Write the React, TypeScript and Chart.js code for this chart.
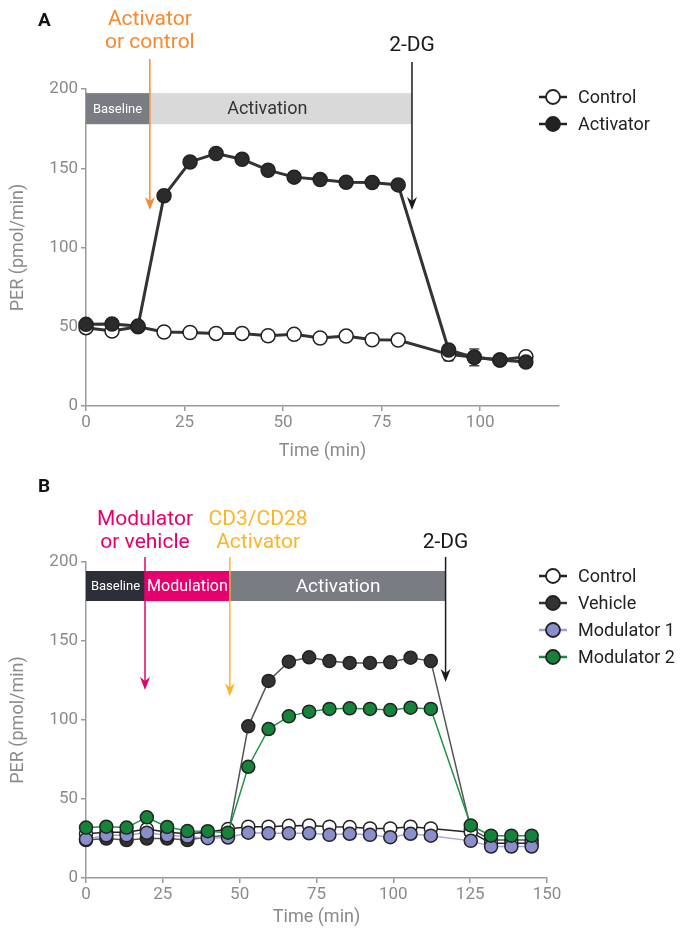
import React, { useEffect, useRef } from 'react';
import { Chart, registerables } from 'chart.js';
Chart.register(...registerables);

// ---------- Panel A data ----------
const timeA = [0, 6.6, 13.2, 19.8, 26.4, 33, 39.6, 46.2, 52.8, 59.4, 66, 72.6, 79.2, 92, 98.5, 105, 111.6];
const controlA = [49.4, 47.3, 50, 46.7, 46.4, 45.8, 45.8, 44.3, 45.2, 42.9, 44.1, 41.8, 41.6, 32.6, 30.7, 29, 31.1];
const activatorA = [51.5, 51.7, 50.4, 132.6, 154, 159.3, 155.7, 148.8, 144.4, 142.9, 141.2, 141, 139.5, 35.3, 30.7, 29, 27.7];
const controlErrA = [0, 0, 0, 0, 0, 0, 0, 0, 0, 0, 0, 0, 0, 4, 0, 0, 0];
const activatorErrA = [0, 0, 0, 0, 0, 0, 0, 0, 0, 0, 0, 0, 0, 3, 5.3, 1, 0];

// ---------- Panel B data ----------
const timeB = [0, 6.6, 13.2, 19.8, 26.4, 33, 39.6, 46.2, 52.8, 59.4, 66, 72.6, 79.2, 85.8, 92.4, 99, 105.6, 112.2, 125.2, 131.8, 138.4, 145];
const controlB = [28, 29, 29, 31, 29, 28, 29, 31, 32.5, 32.5, 33, 33.3, 32.5, 32.2, 31.4, 31.4, 32.5, 31.4, 29, 22, 22, 22];
const vehicleB = [24, 25, 24, 25, 25, 24, 26, 27, 96, 124.7, 136.9, 139.7, 137.3, 136.1, 136.1, 136.5, 139.4, 137.3, 31, 24, 24, 24];
const mod1B = [24.5, 27, 27, 28.7, 27, 26.2, 25.2, 25.6, 28.7, 28.3, 28.3, 28.3, 27.3, 28, 27.3, 25.8, 28, 26.8, 23.5, 19.9, 19.9, 19.9];
const mod2B = [31.9, 32.5, 31.9, 38.4, 32.3, 29.7, 29.6, 28.7, 70.4, 94.3, 102.3, 105.3, 107, 107.4, 107, 106.3, 107.8, 107, 33.3, 26.8, 26.8, 26.8];

const yTicks = [0, 50, 100, 150, 200];
const xTicksA = [0, 25, 50, 75, 100];
const xTicksB = [0, 25, 50, 75, 100, 125, 150];

const FONT = 'Roboto';
const TICK_COLOR = '#8a8a8a';
const AXIS_COLOR = '#9a9a9a';

// ---------- Annotations (data coordinates) ----------
const bandYA = [177.8, 197.4];
const bandsA = [
  { from: 0, to: 16, color: '#797c82', label: 'Baseline', labelX: 8, textColor: '#ffffff', size: 13 },
  { from: 16, to: 82.7, color: '#d9d9d9', label: 'Activation', labelX: 46, textColor: '#333333', size: 18 },
];
const arrowsA = [
  { x: 16.2, top: 219, tip: 123.6, color: '#f7892f', lines: ['Activator', 'or control'], linesY: [243.4, 228.9] },
  { x: 82.7, top: 217, tip: 123.6, color: '#1a1a1a', lines: ['2-DG'], linesY: [227.6] },
];
const bandYB = [175.3, 194.3];
const bandsB = [
  { from: 0, to: 19.2, color: '#2c2f37', label: 'Baseline', labelX: 9.6, textColor: '#ffffff', size: 13 },
  { from: 19.2, to: 46.8, color: '#e5006d', label: 'Modulation', labelX: 33, textColor: '#ffffff', size: 16 },
  { from: 46.8, to: 117, color: '#797c83', label: 'Activation', labelX: 82, textColor: '#ffffff', size: 19 },
];
const arrowsB = [
  { x: 19.2, top: 203.2, tip: 119, color: '#e5006d', lines: ['Modulator', 'or vehicle'], linesY: [226.6, 212] },
  { x: 46.8, top: 203.2, tip: 115, color: '#f9b62b', lines: ['CD3/CD28', 'Activator'], linesY: [226.6, 212], textX: 56 },
  { x: 117, top: 203.2, tip: 124, color: '#1a1a1a', lines: ['2-DG'], linesY: [212] },
];

type LegendItem = { label: string; line: string; fill: string };
const legendA: LegendItem[] = [
  { label: 'Control', line: '#222222', fill: '#ffffff' },
  { label: 'Activator', line: '#222222', fill: '#222222' },
];
const legendB: LegendItem[] = [
  { label: 'Control', line: '#222222', fill: '#ffffff' },
  { label: 'Vehicle', line: '#333333', fill: '#333333' },
  { label: 'Modulator 1', line: '#9a9edb', fill: '#8a8fcc' },
  { label: 'Modulator 2', line: '#17883d', fill: '#15843a' },
];

function drawArrow(ctx: CanvasRenderingContext2D, x: number, yTop: number, yTip: number, color: string) {
  ctx.save();
  ctx.strokeStyle = color;
  ctx.fillStyle = color;
  ctx.lineWidth = 1.5;
  ctx.beginPath();
  ctx.moveTo(x, yTop);
  ctx.lineTo(x, yTip - 6);
  ctx.stroke();
  ctx.beginPath();
  ctx.moveTo(x, yTip);
  ctx.lineTo(x - 5, yTip - 13);
  ctx.lineTo(x, yTip - 9);
  ctx.lineTo(x + 5, yTip - 13);
  ctx.closePath();
  ctx.fill();
  ctx.restore();
}

function makeAnnotPlugin(opts: {
  letter: string;
  bandY: number[];
  bands: any[];
  arrows: any[];
  legend: LegendItem[];
  legendTop: number;
  legendStep: number;
  errors?: { data: number[]; err: number[] }[];
  times: number[];
}) {
  return {
    id: 'annot' + opts.letter,
    beforeDatasetsDraw(chart: any) {
      const ctx = chart.ctx as CanvasRenderingContext2D;
      const xs = chart.scales.x;
      const ys = chart.scales.y;
      if (opts.errors) {
        ctx.save();
        ctx.strokeStyle = '#444';
        ctx.lineWidth = 1.5;
        opts.errors.forEach((e) => {
          e.err.forEach((v, i) => {
            if (!v) return;
            const px = xs.getPixelForValue(opts.times[i]);
            const y1 = ys.getPixelForValue(e.data[i] + v);
            const y2 = ys.getPixelForValue(e.data[i] - v);
            ctx.beginPath();
            ctx.moveTo(px, y1);
            ctx.lineTo(px, y2);
            ctx.moveTo(px - 5, y1);
            ctx.lineTo(px + 5, y1);
            ctx.moveTo(px - 5, y2);
            ctx.lineTo(px + 5, y2);
            ctx.stroke();
          });
        });
        ctx.restore();
      }
    },
    afterDraw(chart: any) {
      const ctx = chart.ctx as CanvasRenderingContext2D;
      const xs = chart.scales.x;
      const ys = chart.scales.y;
      ctx.save();
      // panel letter
      ctx.fillStyle = '#111';
      ctx.font = `bold 19px ${FONT}`;
      ctx.textAlign = 'left';
      ctx.textBaseline = 'middle';
      ctx.fillText(opts.letter, 38, 21);
      // bands
      const yb1 = ys.getPixelForValue(opts.bandY[1]);
      const yb0 = ys.getPixelForValue(opts.bandY[0]);
      opts.bands.forEach((b) => {
        const x0 = xs.getPixelForValue(b.from);
        const x1 = xs.getPixelForValue(b.to);
        ctx.fillStyle = b.color;
        ctx.fillRect(x0, yb1, x1 - x0, yb0 - yb1);
      });
      opts.bands.forEach((b) => {
        ctx.fillStyle = b.textColor;
        ctx.font = `${b.size}px ${FONT}`;
        ctx.textAlign = 'center';
        ctx.fillText(b.label, xs.getPixelForValue(b.labelX), (yb0 + yb1) / 2 + 1);
      });
      // arrows + labels
      opts.arrows.forEach((a) => {
        const px = xs.getPixelForValue(a.x);
        drawArrow(ctx, px, ys.getPixelForValue(a.top), ys.getPixelForValue(a.tip), a.color);
        ctx.fillStyle = a.color;
        ctx.font = `21px ${FONT}`;
        ctx.textAlign = 'center';
        const tx = xs.getPixelForValue(a.textX ?? a.x);
        a.lines.forEach((t: string, i: number) => {
          ctx.fillText(t, tx, ys.getPixelForValue(a.linesY[i]));
        });
      });
      // legend
      opts.legend.forEach((l, i) => {
        const y = opts.legendTop + i * opts.legendStep;
        ctx.strokeStyle = l.line;
        ctx.lineWidth = 2.5;
        ctx.beginPath();
        ctx.moveTo(539, y);
        ctx.lineTo(567, y);
        ctx.stroke();
        ctx.beginPath();
        ctx.arc(553, y, 7, 0, Math.PI * 2);
        ctx.fillStyle = l.fill;
        ctx.fill();
        ctx.lineWidth = 1.8;
        ctx.strokeStyle = '#222';
        ctx.stroke();
        ctx.fillStyle = '#222';
        ctx.font = `18px ${FONT}`;
        ctx.textAlign = 'left';
        ctx.fillText(l.label, 578, y + 1);
      });
      ctx.restore();
    },
  };
}

function scales(xMax: number, xTicks: number[], xHeight: number) {
  const common = {
    grid: { display: true, drawOnChartArea: false, drawTicks: true, tickLength: 5, color: AXIS_COLOR, lineWidth: 1.5 },
    border: { display: true, color: AXIS_COLOR, width: 1.5 },
  };
  return {
    x: {
      type: 'linear',
      min: 0,
      max: xMax,
      afterBuildTicks: (s: any) => {
        s.ticks = xTicks.map((v) => ({ value: v }));
      },
      afterFit: (s: any) => {
        s.height = xHeight;
      },
      ticks: { color: TICK_COLOR, font: { size: 17, family: FONT }, padding: 2, maxRotation: 0 },
      title: { display: true, text: 'Time (min)', color: TICK_COLOR, font: { size: 18, family: FONT }, padding: { top: 0, bottom: 4 } },
      ...common,
    },
    y: {
      type: 'linear',
      min: 0,
      max: 200,
      afterBuildTicks: (s: any) => {
        s.ticks = yTicks.map((v) => ({ value: v }));
      },
      afterFit: (s: any) => {
        s.width = 86;
      },
      ticks: { color: TICK_COLOR, font: { size: 17, family: FONT }, padding: 3 },
      title: { display: true, text: 'PER (pmol/min)', color: TICK_COLOR, font: { size: 18, family: FONT }, padding: { top: 8, bottom: 0 } },
      ...common,
    },
  };
}

function ds(label: string, xs: number[], ys: number[], line: string, fill: string, lw: number, r: number, order: number) {
  return {
    label,
    data: xs.map((x, i) => ({ x, y: ys[i] })),
    borderColor: line,
    borderWidth: lw,
    pointBackgroundColor: fill,
    pointBorderColor: '#222',
    pointBorderWidth: 1.5,
    pointRadius: r,
    pointHoverRadius: r,
    tension: 0,
    clip: false,
    order,
  };
}

function useChart(ref: React.RefObject<HTMLCanvasElement>, make: () => any) {
  useEffect(() => {
    if (!ref.current) return;
    const chart = new Chart(ref.current, make());
    return () => chart.destroy();
  }, []);
}

function PanelA() {
  const ref = useRef<HTMLCanvasElement>(null);
  useChart(ref, () => ({
    type: 'line',
    data: {
      datasets: [
        ds('Activator', timeA, activatorA, '#333333', '#2b2b2b', 3, 7, 1),
        ds('Control', timeA, controlA, '#333333', '#ffffff', 3, 7, 2),
      ],
    },
    options: {
      animation: false,
      responsive: false,
      events: [],
      layout: { padding: { top: 89, right: 124, bottom: 0, left: 0 } },
      plugins: { legend: { display: false }, tooltip: { enabled: false } },
      scales: scales(120, xTicksA, 60),
    },
    plugins: [
      makeAnnotPlugin({
        letter: 'A',
        bandY: bandYA,
        bands: bandsA,
        arrows: arrowsA,
        legend: legendA,
        legendTop: 97,
        legendStep: 27,
        times: timeA,
        errors: [
          { data: controlA, err: controlErrA },
          { data: activatorA, err: activatorErrA },
        ],
      }),
    ],
  }));
  return <canvas ref={ref} width={683} height={466} style={{ display: 'block', width: 683, height: 466 }} />;
}

function PanelB() {
  const ref = useRef<HTMLCanvasElement>(null);
  useChart(ref, () => ({
    type: 'line',
    data: {
      datasets: [
        ds('Modulator 2', timeB, mod2B, '#1f9446', '#15843a', 1.5, 6.5, 1),
        ds('Modulator 1', timeB, mod1B, '#a3a7e0', '#8a8fcc', 1.5, 6.5, 2),
        ds('Control', timeB, controlB, '#222222', '#ffffff', 1.5, 6.5, 3),
        ds('Vehicle', timeB, vehicleB, '#555555', '#333333', 1.5, 6.5, 4),
      ],
    },
    options: {
      animation: false,
      responsive: false,
      events: [],
      layout: { padding: { top: 96, right: 136, bottom: 0, left: 0 } },
      plugins: { legend: { display: false }, tooltip: { enabled: false } },
      scales: scales(150, xTicksB, 54),
    },
    plugins: [
      makeAnnotPlugin({
        letter: 'B',
        bandY: bandYB,
        bands: bandsB,
        arrows: arrowsB,
        legend: legendB,
        legendTop: 110,
        legendStep: 27,
        times: timeB,
      }),
    ],
  }));
  return <canvas ref={ref} width={683} height={466} style={{ display: 'block', width: 683, height: 466 }} />;
}

export default function App() {
  return (
    <div style={{ position: 'absolute', left: 0, top: 0, width: 683, height: 932, background: '#fff' }}>
      <PanelA />
      <PanelB />
    </div>
  );
}
